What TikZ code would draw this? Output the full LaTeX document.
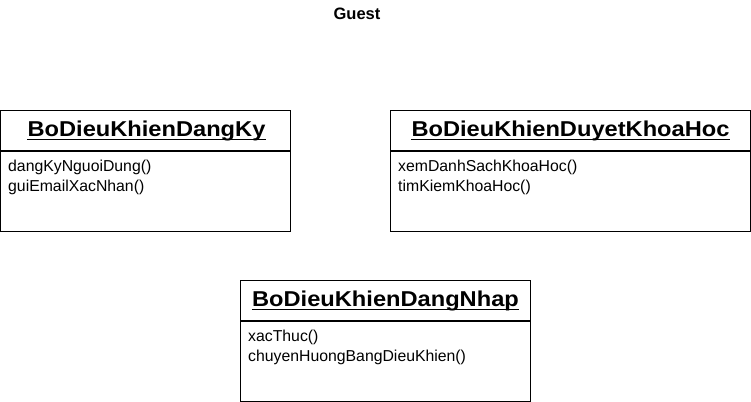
\documentclass[tikz,border=0pt]{standalone}
\usepackage{fontspec}
\setmainfont{Liberation Sans}
\newfontfamily\hdfont[FakeStretch=1.1]{Liberation Sans Bold}
\usetikzlibrary{calc}
\usetikzlibrary{positioning}
\tikzset{%
	% Specifications for style of nodes:
	base/.style = {rectangle, draw=black, line width=1pt, inner sep=0pt},
	head/.style = {base, minimum height=40pt},
	body/.style = {base, minimum height=80pt},
	title/.style = {inner sep=0pt, anchor=base, font=\hdfont\fontsize{21.5}{21.5}\selectfont},
	ops/.style = {inner sep=0pt, anchor=north west, align=left,
				  font=\fontsize{15.8}{20}\selectfont},
	uline/.style = {line width=1.6pt},
}
\begin{document}
\begin{tikzpicture}[x=1pt, y=-1pt]
	\useasboundingbox (0,0) rectangle (751,401);

	% Specification of nodes (position, etc.)

	\node (guest) [font=\bfseries\fontsize{16.5}{16.5}\selectfont, anchor=base] at (357,20) {Guest};

	\node (dangKyHead)	[head, minimum width=290pt] at (145.5,130)	{};
	\node (dangKyBody)	[body, minimum width=290pt, below=0pt of dangKyHead]	{};
	\node (dangKyTitle)	[title] at ($(dangKyHead.center)+(1,6)$)	{BoDieuKhienDangKy};
	\node (dangKyOps)	[ops] at ($(dangKyBody.north west)+(8,9.5)$)	{dangKyNguoiDung()\\guiEmailXacNhan()};

	\node (duyetHead)	[head, minimum width=360pt] at (570.5,130)	{};
	\node (duyetBody)	[body, minimum width=360pt, below=0pt of duyetHead]	{};
	\node (duyetTitle)	[title] at ($(duyetHead.center)+(0,6)$)	{BoDieuKhienDuyetKhoaHoc};
	\node (duyetOps)	[ops] at ($(duyetBody.north west)+(8,9.5)$)	{xemDanhSachKhoaHoc()\\timKiemKhoaHoc()};

	\node (dangNhapHead)	[head, minimum width=290pt] at (385.5,300)	{};
	\node (dangNhapBody)	[body, minimum width=290pt, below=0pt of dangNhapHead]	{};
	\node (dangNhapTitle)	[title] at ($(dangNhapHead.center)+(0,6)$)	{BoDieuKhienDangNhap};
	\node (dangNhapOps)	[ops] at ($(dangNhapBody.north west)+(8,9.5)$)	{xacThuc()\\chuyenHuongBangDieuKhien()};

	% underlines of the class names
	\foreach \cls in {dangKy, duyet, dangNhap}
		\draw[uline] ([yshift=-3.5pt]\cls Title.base west) -- ([yshift=-3.5pt]\cls Title.base east);

\end{tikzpicture}
\end{document}
